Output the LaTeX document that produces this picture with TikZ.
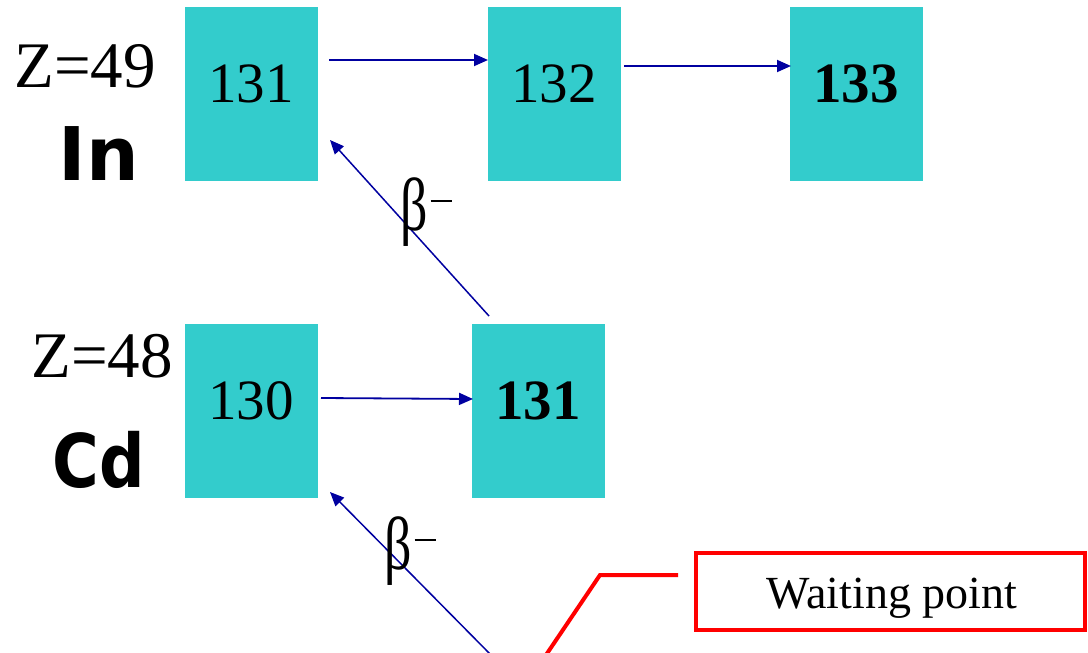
\documentclass[tikz,border=0pt]{standalone}
\usepackage{fontspec}
\setmainfont{Liberation Serif}
\newfontfamily\symsans{DejaVu Sans}
\usetikzlibrary{arrows.meta}
\definecolor{boxc}{HTML}{33CCCC}
\definecolor{arrc}{HTML}{0000A0}
\newcommand{\betaminus}{\scalebox{0.9}[1.25]{β}\hspace{3pt}\raisebox{28pt}{\rule{21pt}{2pt}}}
\tikzset{
  nuc/.style={fill=boxc, draw=none, minimum width=133pt, minimum height=174pt, inner sep=0pt},
  numtxt/.style={anchor=base, inner sep=0pt, font=\fontsize{57}{57}\selectfont},
  ztxt/.style={anchor=base, inner sep=0pt, font=\fontsize{65}{65}\selectfont},
  eltxt/.style={anchor=base, inner sep=0pt, font=\symsans\bfseries\fontsize{74}{74}\selectfont},
  betatxt/.style={anchor=base, inner sep=0pt, font=\fontsize{60}{60}\selectfont},
  flow/.style={draw=arrc, line width=1.8pt, -{Triangle[length=14pt,width=12pt]}},
  callout/.style={draw=red, line width=4pt},
}
\begin{document}
\begin{tikzpicture}[x=1pt,y=-1pt]
\useasboundingbox (0,0) rectangle (1088,653);
% boxes
\node[nuc] (in131) at (251.5,94) {};
\node[nuc] (in132) at (554.5,94) {};
\node[nuc] (in133) at (856.5,94) {};
\node[nuc] (cd130) at (251.5,411) {};
\node[nuc] (cd131) at (538.5,411) {};
% numbers
\node[numtxt] (t131) at (251,102) {131};
\node[numtxt] (t132) at (554,102) {132};
\node[numtxt] (t133) at (856,102) {\bfseries 133};
\node[numtxt] (t130) at (251,419) {130};
\node[numtxt] (t131b) at (538,419) {\bfseries 131};
% element labels
\node[ztxt] (z49) at (85,87) {Z=49};
\node[eltxt] (lin) at (99,180) {In};
\node[ztxt] (z48) at (102,377) {Z=48};
\node[eltxt] (lcd) at (99,487) {\scalebox{0.86}[1]{Cd}};
% arrow endpoints
\coordinate (a1s) at (329,60);
\coordinate (a1e) at (488,60);
\coordinate (a2s) at (624,66);
\coordinate (a2e) at (791,66);
\coordinate (a3s) at (321,398);
\coordinate (a3e) at (473,399);
\coordinate (b1s) at (489,316);
\coordinate (b1e) at (330,140);
\coordinate (b2s) at (491,655);
\coordinate (b2e) at (330,492);
\draw[flow] (a1s) -- (a1e);
\draw[flow] (a2s) -- (a2e);
\draw[flow] (a3s) -- (a3e);
\draw[flow, line width=1.5pt] (b1s) -- (b1e);
\draw[flow, line width=1.5pt] (b2s) -- (b2e);
\node[betatxt] (beta1) at (426,230) {\betaminus};
\node[betatxt] (beta2) at (410,569) {\betaminus};
% waiting point
\node[draw=red, line width=3.5pt, minimum width=389pt, minimum height=77pt, inner sep=0pt] (wait) at (890.5,591.5) {};
\node[anchor=base, inner sep=0pt, font=\fontsize{46}{46}\selectfont] (waittxt) at (892,608) {Waiting point};
\coordinate (c1) at (546,655);
\coordinate (c2) at (600,575);
\coordinate (c3) at (678,575);
\draw[callout] (c1) -- (c2) -- (c3);
\end{tikzpicture}
\end{document}
